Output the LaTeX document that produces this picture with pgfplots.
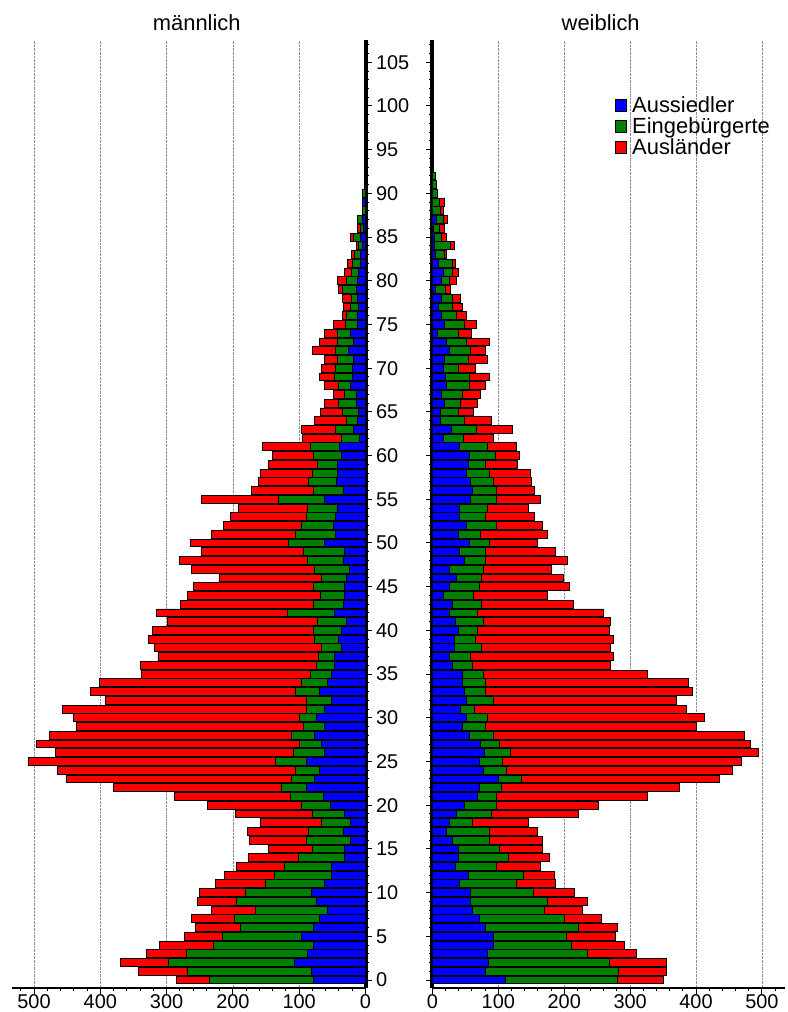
\documentclass[border=0pt]{standalone}
\usepackage{fontspec}
\setmainfont{Liberation Sans}
\usepackage{pgfplots}
\usepackage{pgfplotstable}
\pgfplotsset{compat=1.18}

\definecolor{cBlue}{RGB}{0,0,255}
\definecolor{cGreen}{RGB}{0,128,0}
\definecolor{cRed}{RGB}{255,0,0}

% age, Aussiedler (b), Eingebuergerte (g), Auslaender (r)
\pgfplotstableread{
age b g r
0 78 157 50
1 82 186 74
2 107 190 72
3 88 182 61
4 78 151 82
5 97 119 57
6 78 111 67
7 70 127 65
8 57 109 67
9 74 120 60
10 82 99 69
11 62 89 75
12 52 85 75
13 52 71 71
14 32 69 76
15 31 49 66
16 22 67 86
17 34 52 92
18 22 44 92
19 32 48 116
20 53 43 142
21 64 49 175
22 89 38 253
23 77 35 339
24 70 36 359
25 89 47 373
26 62 47 358
27 67 33 396
28 77 34 365
29 62 31 343
30 74 26 341
31 62 27 368
32 52 37 303
33 70 35 310
34 58 38 305
35 52 31 255
36 47 27 266
37 47 24 242
38 37 29 253
39 41 36 250
40 37 42 242
41 28 45 226
42 47 70 198
43 33 46 200
44 31 37 200
45 32 47 181
46 28 39 154
47 24 53 185
48 34 53 194
49 32 61 155
50 62 54 148
51 45 60 127
52 49 48 117
53 45 44 115
54 43 44 104
55 62 69 116
56 34 44 94
57 44 42 76
58 42 38 78
59 43 29 74
60 37 41 62
61 39 44 73
62 9 28 58
63 18 28 51
64 12 17 48
65 10 25 33
66 13 28 21
67 13 19 17
68 22 19 21
69 19 28 23
70 19 26 21
71 18 24 20
72 26 19 35
73 18 25 27
74 22 21 19
75 12 18 19
76 12 16 7
77 10 13 10
78 12 9 14
79 13 22 6
80 12 17 13
81 10 11 10
82 8 12 7
83 8 9 4
84 5 5 4
85 8 10 4
86 3 5 4
87 4 8 0
88 0 4 0
89 4 0 0
90 0 5 0
91 0 2 0
}\male

\pgfplotstableread{
age b g r
0 111 170 70
1 81 202 72
2 85 183 87
3 83 152 75
4 93 118 80
5 92 112 73
6 81 141 59
7 71 130 55
8 60 110 58
9 58 116 61
10 58 95 63
11 41 86 59
12 54 84 47
13 35 62 67
14 39 76 63
15 39 63 65
16 30 57 80
17 22 65 72
18 26 34 86
19 37 52 133
20 49 48 155
21 68 29 230
22 71 33 271
23 100 35 301
24 77 36 342
25 71 35 363
26 79 40 375
27 73 29 380
28 56 37 381
29 45 36 320
30 52 31 330
31 43 21 322
32 52 41 278
33 49 32 313
34 45 36 308
35 45 32 250
36 31 29 210
37 26 32 217
38 33 41 196
39 33 33 209
40 39 29 200
41 35 42 193
42 26 42 192
43 31 44 139
44 16 47 111
45 26 45 137
46 37 38 124
47 26 51 103
48 49 32 124
49 41 40 105
50 56 31 73
51 39 34 101
52 52 45 70
53 41 40 74
54 41 42 63
55 58 39 67
56 60 37 58
57 58 35 57
58 52 35 62
59 54 27 48
60 56 40 36
61 41 42 45
62 16 31 45
63 29 38 55
64 12 37 40
65 12 27 23
66 18 25 26
67 14 31 28
68 22 34 24
69 20 36 30
70 16 23 26
71 18 36 29
72 26 32 23
73 22 30 34
74 8 31 20
75 18 31 18
76 14 23 15
77 9 21 16
78 13 17 13
79 4 16 8
80 13 13 11
81 16 14 9
82 9 21 5
83 5 13 4
84 3 24 6
85 3 10 8
86 1 9 8
87 6 10 7
88 0 12 4
89 0 10 8
90 0 8 0
91 0 6 0
92 0 4 0
}\female

\newcommand{\fs}{\fontsize{20}{23}\selectfont}
\newcommand{\fl}{\fontsize{22}{25}\selectfont}

\pgfplotsset{
  pyr/.style={
    xbar stacked, bar width=0.9,
    scale only axis, height=948bp,
    ymin=-0.915, ymax=107.55,
    xmin=0,
    ytick={0,5,...,105}, minor ytick={0,1,...,107},
    xtick={0,100,...,500}, minor xtick={20,40,...,520},
    xmajorgrids, major grid style={densely dotted, black!45, line width=0.8bp},
    tick align=outside,
    major tick length=6bp, minor tick length=3.5bp,
    every tick/.style={black, line width=1bp},
    x axis line style={-, line width=1.2bp},
    y axis line style={-, line width=4bp},
    axis x line*=bottom,
    font=\fs, tick label style={font=\fs},
    xticklabel style={inner sep=1bp, yshift=0.5bp},
    /pgf/number format/assume math mode=true,
    title style={font=\fl},
    every axis plot/.append style={draw=black, line width=0.9bp},
    legend image code/.code={\draw[#1, line width=0.8bp] (0bp,-6bp) rectangle (11bp,6bp);},
  }
}

\begin{document}
\begin{tikzpicture}
\useasboundingbox (0,0) rectangle (788bp,1012bp);
\begin{axis}[pyr,
  at={(188.75bp,24bp)}, anchor=south,
  width=353.5bp, xmax=533.2, x dir=reverse,
  axis y line*=right,
  yticklabel style={xshift=1bp},
  title={männlich},
  title style={xshift=8bp},
]
\addplot[fill=cBlue] table[x=b,y=age] {\male};
\addplot[fill=cGreen] table[x=g,y=age] {\male};
\addplot[fill=cRed] table[x=r,y=age] {\male};
\end{axis}
\begin{axis}[pyr,
  at={(608.7bp,24bp)}, anchor=south,
  width=352.6bp, xmax=535,
  axis y line*=left, yticklabels={},
  title={weiblich},
  title style={xshift=-8bp},
  legend style={draw=none, fill=none, at={(0.51,0.945)}, anchor=north west,
    font=\fl, row sep=0bp,
    /tikz/every odd column/.append style={column sep=3bp}},
  legend cell align=left,
]
\addplot[fill=cBlue] table[x=b,y=age] {\female};
\addplot[fill=cGreen] table[x=g,y=age] {\female};
\addplot[fill=cRed] table[x=r,y=age] {\female};
\legend{Aussiedler,Eingebürgerte,Ausländer}
\end{axis}
\end{tikzpicture}
\end{document}
